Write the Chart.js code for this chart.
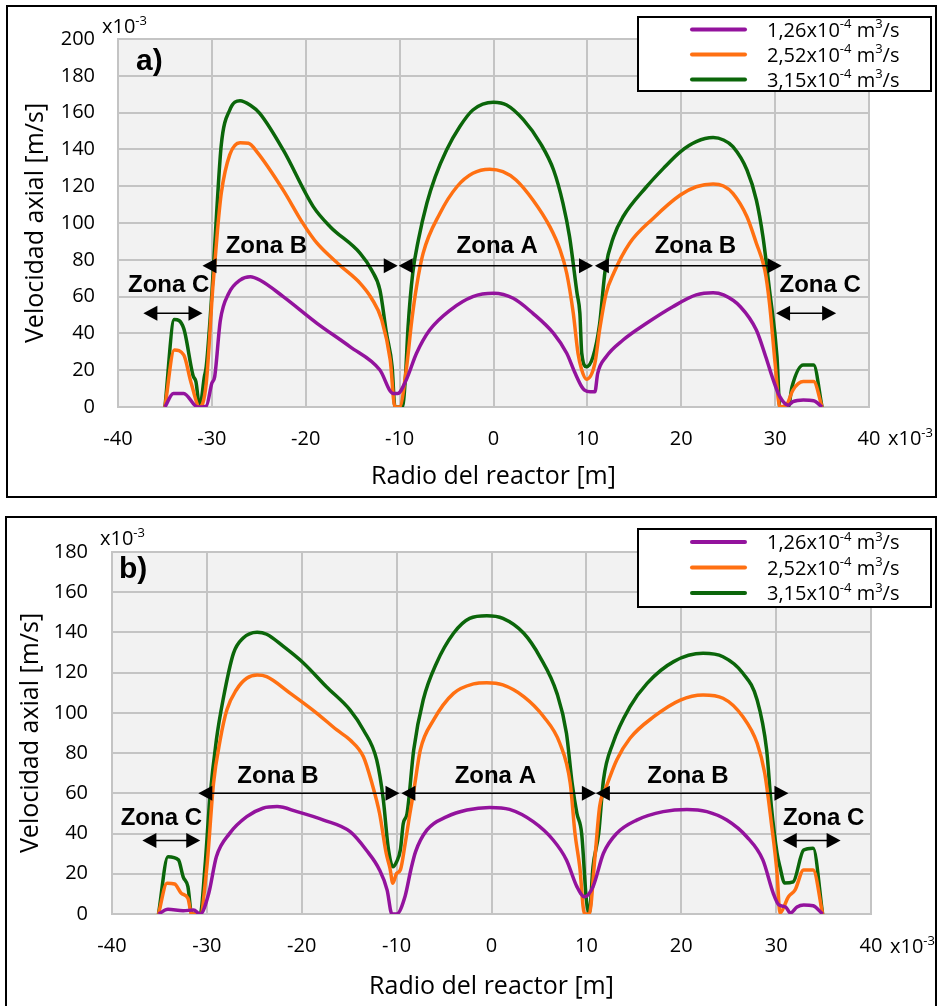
<!DOCTYPE html>
<html>
<head>
<meta charset="utf-8">
<script src="https://cdn.jsdelivr.net/npm/chart.js@4.4.1/dist/chart.umd.min.js"></script>
<style>
  html, body { margin: 0; padding: 0; background: #fff; }
  body { width: 938px; height: 1006px; position: relative; overflow: hidden; }
  canvas { position: absolute; left: 0; }
  #chart-a { top: 0; }
  #chart-b { top: 503px; }
  .frame { position: absolute; border: 2px solid #000; pointer-events: none; }
</style>
</head>
<body>
<canvas id="chart-a" width="938" height="503"></canvas>
<canvas id="chart-b" width="938" height="503"></canvas>
<div class="frame" style="left:6px;top:5px;width:927px;height:489px"></div>
<div class="frame" style="left:5px;top:516px;width:928px;height:500px"></div>
<script>
// caudales (m3/s x10-4)
const flowRates = ['1,26', '2,52', '3,15'];

// panel a) -- radio [m x10-3] y velocidad axial [m/s x10-3]
const radioA1 = [-35, -34.1, -33.0, -31.5, -30.6, -30.0, -29.7, -29.1, -28.2, -27.0, -25.9, -24.9, -22.4, -18.8, -15.3, -12.1, -10.7, -10.2, -9.3, -8.2, -6.8, -4.6, -2.2, 0, 2.1, 4.2, 6.4, 7.8, 8.7, 9.4, 9.7, 10.3, 10.8, 11.1, 12.0, 13.8, 16.3, 19.1, 21.6, 23.4, 24.5, 26.3, 28.0, 29.0, 29.8, 30.5, 31.4, 31.9, 33.0, 34.1, 35.0];
const velA1 = [0, 7.4, 7.4, 0, 0.5, 13, 16.5, 47, 61.8, 69, 70.8, 69, 60, 45.5, 32.8, 20.1, 7.4, 7.4, 14.7, 29.2, 41.8, 52.7, 60, 61.8, 59.1, 50.9, 40, 29.2, 18.3, 11, 9.2, 8.3, 8.3, 18.3, 27.3, 36.4, 45.5, 54.5, 60.9, 62.1, 60.9, 54.5, 41.8, 27.3, 14.7, 5.6, 1, 2.9, 3.8, 3.4, 0];

const radioA2 = [-35, -34.0, -33.0, -32.2, -31.3, -30.6, -29.9, -29.4, -29.0, -28.1, -27.0, -26.1, -25.2, -22.4, -20.3, -18.8, -16.4, -14.2, -13.0, -11.9, -11.0, -10.5, -10.0, -9.3, -8.7, -8.2, -7.5, -5.7, -3.9, -2.2, -0.4, 1.0, 2.4, 4.2, 6.0, 7.1, 7.8, 8.5, 9.0, 9.4, 9.9, 10.8, 11.3, 12.0, 12.8, 14.5, 17.0, 19.9, 21.6, 23.4, 24.5, 25.5, 27.0, 28.0, 28.9, 29.4, 30.0, 30.5, 31.2, 31.9, 33.0, 34.1, 35.0];
const velA2 = [0, 31, 28.3, 12.9, 0, 12.9, 65, 96.2, 116.1, 137, 143.6, 143.3, 138.7, 117.9, 99.8, 89, 77.2, 67.2, 59.1, 47.3, 25.5, 0, 0, 20, 47.3, 65.4, 83.5, 105.3, 119.7, 127, 129.2, 127.9, 123.4, 112.5, 98, 85.3, 72.7, 50.9, 29.2, 20.1, 15.1, 23.7, 41.8, 61.8, 72.7, 89, 102.5, 115.2, 119.7, 121.2, 120.1, 116.1, 103.4, 89, 74.5, 56.4, 23.7, 0, 1, 9.2, 13.8, 13.8, 0];

const radioA3 = [-35, -34.0, -33.0, -32.0, -31.7, -31.3, -30.8, -30.6, -30.0, -29.5, -29.0, -28.1, -27.0, -25.9, -24.9, -22.4, -19.2, -17.4, -14.2, -13.0, -12.1, -11.4, -10.8, -10.5, -9.7, -9.4, -9.1, -8.6, -8.0, -7.1, -6.2, -5.0, -3.6, -2.2, 0, 1.4, 3.2, 5.0, 6.4, 7.4, 8.1, 8.9, 9.2, 9.4, 9.9, 10.6, 11.3, 11.9, 12.8, 13.8, 16.3, 18.1, 19.9, 21.6, 23.4, 24.5, 25.5, 27.0, 28.0, 28.7, 29.4, 30.2, 30.5, 31.4, 31.8, 33.0, 34.1, 35.0];
const velA3 = [0, 47.6, 42.7, 17, 13.8, 0, 16.5, 22, 61.8, 105, 142.4, 161.4, 166.5, 164, 159.6, 139.7, 108.9, 98, 83.5, 74.5, 63.6, 40, 21.9, 0, 0, 14.7, 43.6, 72.8, 90.8, 110.7, 125.2, 139.7, 152.3, 161.4, 165.6, 164.1, 156, 143.3, 128.8, 110.7, 92.6, 61.8, 51, 29.2, 21.9, 27.3, 45, 74.5, 92.6, 103.4, 119.7, 129.7, 138.7, 144.2, 146.4, 145.1, 141.5, 128.8, 112.5, 92.6, 63.6, 27.3, 0, 0, 11, 22.8, 22.8, 0];

// panel b)
const radioB1 = [-35.1, -34.1, -32.5, -31.4, -30.7, -29.8, -29.0, -27.6, -25.8, -24.1, -22.6, -20.5, -17.7, -14.9, -13.2, -11.8, -11.0, -10.5, -10.0, -9.1, -8.5, -8.0, -6.8, -4.7, -2.6, -0.2, 1.9, 4.4, 6.5, 7.9, 9.0, 9.8, 10.7, 11.8, 13.2, 15.3, 18.1, 20.6, 22.7, 24.8, 26.9, 28.6, 29.7, 30.3, 31.0, 31.5, 32.2, 32.9, 33.9, 34.9];
const velB1 = [0, 2.3, 1.6, 2, 0, 10.3, 28.5, 40.1, 48.4, 52.6, 53.4, 50.9, 46.7, 40.9, 31.8, 21.9, 11.9, 0, 0, 9, 22, 31, 41.8, 48.4, 51.7, 53, 52, 45.9, 36.8, 26.9, 13.6, 8.6, 13.6, 30.2, 40.1, 46.7, 50.9, 52, 50.9, 46.7, 38.4, 26.9, 10.3, 4.5, 3.5, 0.5, 3.5, 4.5, 4.1, 0];

const radioB2 = [-35.1, -34.2, -33.4, -32.7, -32.0, -31.6, -30.7, -30.0, -29.3, -28.6, -27.9, -26.9, -25.8, -24.7, -23.7, -21.2, -18.4, -16.3, -14.9, -13.5, -12.6, -11.8, -11.1, -10.7, -10.4, -10.0, -9.6, -9.1, -8.6, -8.2, -7.5, -6.1, -4.0, -1.9, -0.5, 1.2, 3.4, 5.5, 7.2, 8.3, 8.8, 9.3, 9.8, 10.3, 10.9, 11.4, 12.1, 13.2, 14.6, 17.1, 19.9, 22.3, 24.4, 26.5, 28.0, 28.8, 29.5, 30.1, 30.4, 31.3, 32.0, 32.9, 33.9, 34.9];
const velB2 = [0, 15.3, 14.9, 10.3, 7.8, 0, 0, 23.5, 65, 86.5, 101.4, 111.4, 117.2, 118.8, 118, 109.7, 99.8, 91.5, 86.5, 78.2, 65, 50.1, 30.2, 22.7, 15.3, 20.2, 22, 35, 50, 61, 81.6, 96.5, 109.7, 114.4, 115, 113.9, 108.1, 98.1, 84.9, 65, 40.1, 23.5, 0, 0, 28, 53.4, 63.3, 76.6, 87.4, 98.1, 106.4, 108.9, 107.3, 98.1, 84.9, 70, 45.1, 20.2, 0.5, 8.6, 12, 21.9, 21.9, 0];

const radioB3 = [-35.1, -34.1, -33.0, -32.5, -32.0, -31.6, -30.7, -30.2, -29.7, -29.0, -28.3, -27.2, -26.2, -24.7, -23.7, -21.9, -19.8, -17.4, -14.9, -13.5, -12.1, -11.4, -10.9, -10.4, -10.0, -9.6, -9.3, -8.9, -8.2, -7.2, -5.8, -4.0, -2.3, -0.5, 1.2, 3.4, 5.1, 6.9, 7.9, 8.5, 9.0, 9.5, 10.0, 10.3, 10.7, 11.3, 11.8, 12.8, 14.6, 16.4, 19.2, 22.3, 24.4, 26.5, 28.0, 29.0, 29.5, 30.1, 30.4, 30.9, 31.8, 32.9, 33.9, 34.9];
const velB3 = [0, 28.5, 26.9, 18.5, 13.6, 0, 0, 23.5, 56.7, 86.5, 106.4, 129.6, 137.1, 140.1, 139.1, 132.9, 124.7, 113, 101.4, 91.5, 76.6, 56.7, 33.5, 23.5, 26, 32, 45, 50, 81.6, 106.4, 124.7, 139.6, 147, 148.3, 147, 139.6, 127.9, 109.7, 89.9, 65, 50.1, 40.1, 7, 0, 23.5, 40.1, 66.6, 84.9, 103.1, 114.7, 125.5, 129.6, 127.9, 119.7, 106.4, 81.6, 53.4, 30.2, 23.5, 15.4, 16, 31.8, 32.7, 0];

// zonas del reactor (radio desde/hasta, altura de la flecha, posicion del rotulo)
const zonesA = [
    { text: 'Zona C', from: -37.3, to: -31.0, at: 51, labelX: -34.6, labelY: 66.3 },
    { text: 'Zona B', from: -31.0, to: -10.2, at: 76.8, labelX: -24.2, labelY: 87.5 },
    { text: 'Zona A', from: -10.1, to: 10.6, at: 76.8, labelX: 0.4, labelY: 87.5 },
    { text: 'Zona B', from: 10.8, to: 30.7, at: 76.8, labelX: 21.5, labelY: 87.5 },
    { text: 'Zona C', from: 30.1, to: 36.5, at: 51, labelX: 34.8, labelY: 66.3 }
];
const zonesB = [
    { text: 'Zona C', from: -36.8, to: -30.7, at: 36.5, labelX: -34.8, labelY: 47.5 },
    { text: 'Zona B', from: -30.9, to: -9.7, at: 60, labelX: -22.5, labelY: 68.3 },
    { text: 'Zona A', from: -9.5, to: 11.0, at: 60, labelX: 0.4, labelY: 68.3 },
    { text: 'Zona B', from: 11.0, to: 31.3, at: 60, labelX: 20.7, labelY: 68.3 },
    { text: 'Zona C', from: 30.7, to: 36.8, at: 36.5, labelX: 35.0, labelY: 47.5 }
];

const lineColors = ['#93139d', '#ff7012', '#0b660a'];
const FONT = '"Open Sans", "Noto Sans", sans-serif';
const BOLD = '"Liberation Sans", Arial, sans-serif';

function toPoints(radio, vel) {
    return radio.map((r, i) => ({ x: r, y: vel[i] }));
}

// texto con superindices: partes [texto, elevado]
function drawParts(ctx, parts, x, y, size, supSize) {
    ctx.textAlign = 'left';
    ctx.textBaseline = 'alphabetic';
    parts.forEach(p => {
        ctx.font = (p[1] ? supSize : size) + 'px ' + FONT;
        ctx.fillText(p[0], x, p[1] ? y - size * 0.42 : y);
        x += ctx.measureText(p[0]).width;
    });
}

function drawArrow(ctx, x1, x2, y) {
    const head = 14, half = 7.5;
    ctx.strokeStyle = '#000';
    ctx.fillStyle = '#000';
    ctx.lineWidth = 1.5;
    ctx.beginPath();
    ctx.moveTo(x1 + head - 2, y);
    ctx.lineTo(x2 - head + 2, y);
    ctx.stroke();
    ctx.beginPath();
    ctx.moveTo(x1, y);
    ctx.lineTo(x1 + head, y - half);
    ctx.lineTo(x1 + head, y + half);
    ctx.closePath();
    ctx.fill();
    ctx.beginPath();
    ctx.moveTo(x2, y);
    ctx.lineTo(x2 - head, y - half);
    ctx.lineTo(x2 - head, y + half);
    ctx.closePath();
    ctx.fill();
}

const decor = {
    id: 'decor',
    beforeDraw(chart) {
        const { ctx, chartArea: a } = chart;
        ctx.save();
        ctx.fillStyle = '#f2f2f2';
        ctx.fillRect(a.left, a.top, a.right - a.left, a.bottom - a.top);
        ctx.restore();
    },
    afterDraw(chart, args, opts) {
        const ctx = chart.ctx;
        const xs = chart.scales.x, ys = chart.scales.y;
        ctx.save();

        opts.zones.forEach(z => {
            drawArrow(ctx, xs.getPixelForValue(z.from), xs.getPixelForValue(z.to), ys.getPixelForValue(z.at));
            ctx.font = 'bold 24px ' + BOLD;
            ctx.textAlign = 'center';
            ctx.textBaseline = 'middle';
            ctx.fillText(z.text, xs.getPixelForValue(z.labelX), ys.getPixelForValue(z.labelY));
        });

        // rotulo del panel
        ctx.fillStyle = '#000';
        ctx.font = 'bold 30px ' + BOLD;
        ctx.textAlign = 'left';
        ctx.textBaseline = 'middle';
        ctx.fillText(opts.tag.text, opts.tag.x, opts.tag.y);

        // factores de escala x10-3
        opts.exps.forEach(e => drawParts(ctx, [['x10', false], ['-3', true]], e.x, e.y, 20, 13));

        // leyenda
        const b = opts.legend;
        ctx.fillStyle = '#fff';
        ctx.fillRect(b.x, b.y, b.w, b.h);
        ctx.strokeStyle = '#000';
        ctx.lineWidth = 2;
        ctx.strokeRect(b.x, b.y, b.w, b.h);
        chart.data.datasets.forEach((ds, i) => {
            const rowY = b.y + b.first + i * b.gap;
            ctx.strokeStyle = ds.borderColor;
            ctx.lineWidth = 4;
            ctx.lineCap = 'round';
            ctx.beginPath();
            ctx.moveTo(b.x + 54, rowY);
            ctx.lineTo(b.x + 107, rowY);
            ctx.stroke();
            ctx.fillStyle = '#000';
            drawParts(ctx, [[ds.rate + 'x10', false], ['-4', true], [' m', false], ['3', true], ['/s', false]],
                b.x + 129, rowY + 7, 20, 13);
        });
        ctx.restore();
    }
};

function makeChart(id, series, yMax, box, deco) {
    return new Chart(document.getElementById(id), {
        type: 'line',
        data: {
            datasets: series.map((s, i) => ({
                label: flowRates[i] + 'x10⁻⁴ m³/s',
                rate: flowRates[i],
                data: s,
                borderColor: lineColors[i],
                borderWidth: 3.5,
                pointRadius: 0,
                fill: false,
                cubicInterpolationMode: 'monotone'
            }))
        },
        options: {
            responsive: false,
            animation: false,
            events: [],
            layout: { padding: { top: box.top, right: box.right, left: 0, bottom: 0 } },
            scales: {
                x: {
                    type: 'linear',
                    min: -40,
                    max: 40,
                    afterFit: s => { s.height = box.xHeight; },
                    ticks: { stepSize: 10, color: '#000', padding: 20, font: { family: FONT, size: 20 } },
                    grid: { color: '#c4c4c4', lineWidth: 2, drawTicks: false },
                    border: { color: '#c4c4c4', width: 2 },
                    title: {
                        display: true, text: 'Radio del reactor [m]', color: '#000',
                        font: { family: FONT, size: 25 }, padding: { top: 0, bottom: box.xTitle }
                    }
                },
                y: {
                    min: 0,
                    max: yMax,
                    afterFit: s => { s.width = box.yWidth; },
                    ticks: { stepSize: 20, color: '#000', padding: box.yPad, font: { family: FONT, size: 20 } },
                    grid: { color: '#c4c4c4', lineWidth: 2, drawTicks: false },
                    border: { color: '#c4c4c4', width: 2 },
                    title: {
                        display: true, text: 'Velocidad axial [m/s]', color: '#000',
                        font: { family: FONT, size: 25 }, padding: { top: box.yTitle, bottom: 0 }
                    }
                }
            },
            plugins: {
                legend: { display: false },
                tooltip: { enabled: false },
                decor: deco
            }
        },
        plugins: [decor]
    });
}

makeChart('chart-a',
    [toPoints(radioA1, velA1), toPoints(radioA2, velA2), toPoints(radioA3, velA3)],
    200,
    { top: 39, right: 69, xHeight: 96, yWidth: 118, yPad: 23, xTitle: 11, yTitle: 21 },
    {
        zones: zonesA,
        tag: { text: 'a)', x: 136, y: 62 },
        exps: [{ x: 102, y: 33 }, { x: 888, y: 445 }],
        legend: { x: 638, y: 17, w: 293, h: 74, first: 12.5, gap: 25 }
    });

makeChart('chart-b',
    [toPoints(radioB1, velB1), toPoints(radioB2, velB2), toPoints(radioB3, velB3)],
    180,
    { top: 49, right: 67, xHeight: 92, yWidth: 112, yPad: 24, xTitle: 4, yTitle: 16 },
    {
        zones: zonesB,
        tag: { text: 'b)', x: 119, y: 67 },
        exps: [{ x: 100, y: 42 }, { x: 890, y: 450 }],
        legend: { x: 638, y: 26, w: 293, h: 78, first: 13, gap: 25.5 }
    });
</script>
</body>
</html>
